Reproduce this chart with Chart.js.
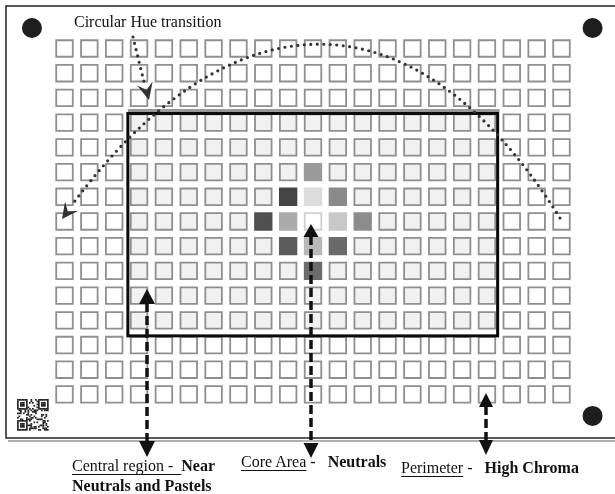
<!DOCTYPE html>
<html>
<head>
<meta charset="utf-8">
<script src="https://cdn.jsdelivr.net/npm/chart.js@4.4.1/dist/chart.umd.min.js"></script>
<style>
  html, body { margin: 0; padding: 0; background: #fff; }
  #wrap { position: relative; width: 615px; height: 494px; overflow: hidden; }
  canvas { position: absolute; left: 0; top: 0; }
  .lbl { position: absolute; font-family: "Liberation Serif", "Times New Roman", serif; font-size: 16px; line-height: 16px; color: #111; white-space: pre; }
  .u { text-decoration: underline; text-decoration-thickness: 1px; text-underline-offset: 3px; }
</style>
</head>
<body>
<div id="wrap">
  <canvas id="chart" width="615" height="494"></canvas>
  <div class="lbl" style="left:74px;top:14px;">Circular Hue transition</div>
  <div class="lbl" style="left:72px;top:458px;"><span class="u">Central region -  </span><b>Near</b></div>
  <div class="lbl" style="left:72px;top:478px;"><b>Neutrals and Pastels</b></div>
  <div class="lbl" style="left:241px;top:454px;"><span class="u">Core Area</span> -   <b>Neutrals</b></div>
  <div class="lbl" style="left:401px;top:460px;"><span class="u">Perimeter</span> -   <b>High Chroma</b></div>
</div>
<script>
// --- Grid layout (columns x rows of patches) ---
const gridCols = 21;
const gridRows = 15;

// central region (column / row index ranges, inclusive)
const centralCols = [3, 17];
const centralRows = [3, 11];

// core neutral patches
const coreCol   = [10, 9, 10, 11, 8, 9, 10, 11, 12, 9, 10, 11, 10];
const coreRow   = [5, 6, 6, 6, 7, 7, 7, 7, 7, 8, 8, 8, 9];
const coreShade = ["#9a9a9a", "#454545", "#dcdcdc", "#8a8a8a", "#505050", "#ababab", "#ffffff",
                   "#c8c8c8", "#8c8c8c", "#5c5c5c", "#b8b8b8", "#6a6a6a", "#6c6c6c"];

// corner fiducial dots (grid units)
const markerCol = [-1.31, 21.25, 21.25];
const markerRow = [-0.83, -0.83, 14.87];

// --- build the cell lists ---
const perimeterCells = [];
const centralCells = [];
const coreCells = [];
const coreKey = {};
coreCol.forEach((c, i) => { coreKey[c + "," + coreRow[i]] = i; });

for (let r = 0; r < gridRows; r++) {
  for (let c = 0; c < gridCols; c++) {
    const inCentral = c >= centralCols[0] && c <= centralCols[1] && r >= centralRows[0] && r <= centralRows[1];
    const k = c + "," + r;
    if (k in coreKey) continue;
    if (inCentral) centralCells.push({ x: c, y: r });
    else perimeterCells.push({ x: c, y: r });
  }
}
coreCol.forEach((c, i) => coreCells.push({ x: c, y: coreRow[i] }));
const coreBorder = coreShade.map(s => (s === "#ffffff" ? "#d0d0d0" : s));

const markers = markerCol.map((c, i) => ({ x: c, y: markerRow[i] }));

// --- decorations drawn on top ---
function dashedArrow(ctx, x, yTop, yBot, head) {
  ctx.save();
  ctx.strokeStyle = "#111";
  ctx.fillStyle = "#111";
  ctx.lineWidth = 3.5;
  ctx.setLineDash([9, 4]);
  ctx.beginPath();
  ctx.moveTo(x, yTop + head.top);
  ctx.lineTo(x, yBot - head.bot);
  ctx.stroke();
  ctx.setLineDash([]);
  if (head.top) {
    ctx.beginPath();
    ctx.moveTo(x, yTop);
    ctx.lineTo(x - head.w / 2, yTop + head.top + 1);
    ctx.lineTo(x + head.w / 2, yTop + head.top + 1);
    ctx.closePath();
    ctx.fill();
  }
  ctx.beginPath();
  ctx.moveTo(x, yBot);
  ctx.lineTo(x - head.w / 2, yBot - head.bot - 1);
  ctx.lineTo(x + head.w / 2, yBot - head.bot - 1);
  ctx.closePath();
  ctx.fill();
  ctx.restore();
}

function barbHead(ctx, tipX, tipY, dx, dy, len, half) {
  const n = Math.hypot(dx, dy);
  const ux = dx / n, uy = dy / n;
  const px = -uy, py = ux;
  const bx = tipX - ux * len, by = tipY - uy * len;
  ctx.beginPath();
  ctx.moveTo(tipX, tipY);
  ctx.lineTo(bx + px * half, by + py * half);
  ctx.lineTo(tipX - ux * len * 0.6, tipY - uy * len * 0.6);
  ctx.lineTo(bx - px * half, by - py * half);
  ctx.closePath();
  ctx.fill();
}

const backdrop = {
  id: "backdrop",
  beforeDatasetsDraw(chart) {
    const ctx = chart.ctx;
    ctx.save();
    // sheet frame with soft shadow
    ctx.strokeStyle = "#b0b0b0";
    ctx.lineWidth = 2;
    ctx.beginPath();
    ctx.moveTo(8, 441); ctx.lineTo(620, 441);
    ctx.stroke();
    ctx.strokeStyle = "#222";
    ctx.lineWidth = 1.5;
    ctx.strokeRect(6, 6, 620, 432);

    // QR code block
    const qx = 17, qy = 399, m = 1.5, n = 21;
    ctx.fillStyle = "#222";
    for (let i = 0; i < n; i++) {
      for (let j = 0; j < n; j++) {
        const finder = (i < 7 && j < 7) || (i < 7 && j >= n - 7) || (i >= n - 7 && j < 7);
        let on;
        if (finder) {
          const a = i >= n - 7 ? i - (n - 7) : i;
          const b = j >= n - 7 ? j - (n - 7) : j;
          on = a === 0 || a === 6 || b === 0 || b === 6 || (a >= 2 && a <= 4 && b >= 2 && b <= 4);
        } else {
          on = ((i * 7 + j * 13) ^ (i * j)) % 3 === 0;
        }
        if (on) ctx.fillRect(qx + j * m, qy + i * m, m + 0.2, m + 0.2);
      }
    }
    ctx.restore();
  },
  afterDatasetsDraw(chart) {
    const ctx = chart.ctx;
    const sx = chart.scales.x, sy = chart.scales.y;
    ctx.save();

    // central region box
    const l = sx.getPixelForValue(2.55), r = sx.getPixelForValue(17.43);
    const t = sy.getPixelForValue(2.63), b = sy.getPixelForValue(11.63);
    ctx.strokeStyle = "#9a9a9a";
    ctx.lineWidth = 3;
    ctx.beginPath();
    ctx.moveTo(l, t - 3); ctx.lineTo(r + 2, t - 3);
    ctx.stroke();
    ctx.strokeStyle = "#0a0a0a";
    ctx.lineWidth = 3;
    ctx.strokeRect(l, t, r - l, b - t);

    // circular hue transition arc (dotted)
    ctx.strokeStyle = "#333";
    ctx.fillStyle = "#333";
    ctx.lineWidth = 3.2;
    ctx.lineCap = "round";
    ctx.setLineDash([0, 6.5]);
    ctx.beginPath();
    ctx.moveTo(560, 218);
    ctx.bezierCurveTo(408, -25, 222, 2, 72, 205);
    ctx.stroke();
    // short dotted pointer from the title
    ctx.beginPath();
    ctx.moveTo(133, 37);
    ctx.lineTo(145, 86);
    ctx.stroke();
    ctx.setLineDash([]);
    ctx.lineCap = "butt";
    barbHead(ctx, 62, 219, -0.595, 0.804, 16, 8);
    barbHead(ctx, 149, 100, 0.25, 1, 17, 8);

    // dashed region arrows
    dashedArrow(ctx, 147, 289, 457, { top: 14, bot: 15, w: 16 });
    dashedArrow(ctx, 311, 224, 458, { top: 12, bot: 14, w: 15 });
    dashedArrow(ctx, 486, 393, 455, { top: 13, bot: 14, w: 14 });
    ctx.restore();
  }
};

// --- chart ---
const pitchX = 24.85, pitchY = 24.71;
const x0 = -64.5 / pitchX, y0 = -48.5 / pitchY;

const cellRadius = 11.7;

new Chart(document.getElementById("chart"), {
  type: "scatter",
  data: {
    datasets: [
      {
        label: "Perimeter - High Chroma",
        data: perimeterCells,
        pointStyle: "rect",
        pointRadius: cellRadius,
        backgroundColor: "#ffffff",
        borderColor: "#8f8f8f",
        borderWidth: 1.8
      },
      {
        label: "Central region - Near Neutrals and Pastels",
        data: centralCells,
        pointStyle: "rect",
        pointRadius: cellRadius,
        backgroundColor: "#f1f1f1",
        borderColor: "#8f8f8f",
        borderWidth: 1.8
      },
      {
        label: "Core Area - Neutrals",
        data: coreCells,
        pointStyle: "rect",
        pointRadius: cellRadius,
        backgroundColor: coreShade,
        borderColor: coreBorder,
        borderWidth: 1.8
      },
      {
        label: "markers",
        data: markers,
        pointStyle: "circle",
        pointRadius: 10,
        backgroundColor: "#1e1e1e",
        borderColor: "#1e1e1e",
        borderWidth: 0
      }
    ]
  },
  options: {
    responsive: false,
    devicePixelRatio: 1,
    animation: false,
    events: [],
    layout: { padding: 0, autoPadding: false },
    plugins: { legend: { display: false }, tooltip: { enabled: false } },
    scales: {
      x: { type: "linear", display: false, min: x0, max: x0 + 615 / pitchX },
      y: { type: "linear", display: false, reverse: true, min: y0, max: y0 + 494 / pitchY }
    }
  },
  plugins: [backdrop]
});
</script>
</body>
</html>
